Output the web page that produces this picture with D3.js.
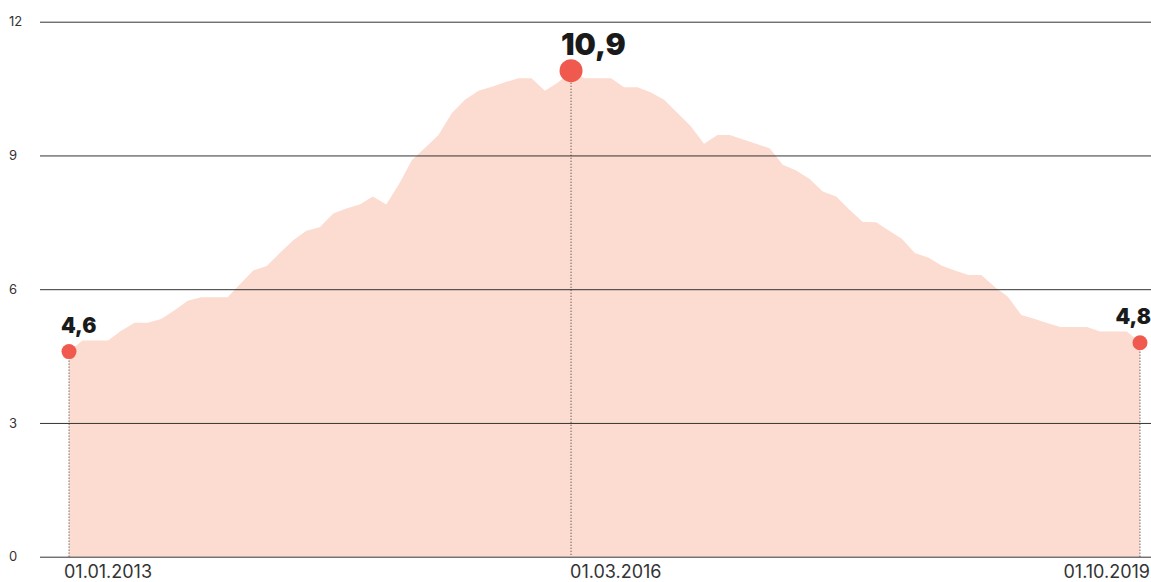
<!DOCTYPE html>
<html>
<head>
<meta charset="utf-8">
<script src="https://cdn.jsdelivr.net/npm/d3@7"></script>
<style>
  body { margin: 0; background: #fff; }
  svg { display: block; }
  text { font-family: Inter, "Noto Sans", sans-serif; }
</style>
</head>
<body>
<div id="chart"></div>
<script>
// monthly values, 01.2013 .. 10.2019
const firstMonth = "2013-01-01";
const lastMonth = "2019-10-01";
const values = [
  4.6, 4.85, 4.85, 4.85, 5.07, 5.25, 5.25, 5.33, 5.53, 5.74, 5.82, 5.82,
  5.82, 6.14, 6.42, 6.52, 6.81, 7.10, 7.31, 7.39, 7.70, 7.81, 7.90, 8.08,
  7.90, 8.39, 8.90, 9.18, 9.46, 9.95, 10.25, 10.45, 10.54, 10.64, 10.73, 10.73,
  10.45, 10.64, 10.9, 10.73, 10.73, 10.73, 10.53, 10.53, 10.41, 10.25, 9.95, 9.66,
  9.26, 9.46, 9.46, 9.36, 9.26, 9.16, 8.79, 8.66, 8.47, 8.19, 8.08, 7.79,
  7.51, 7.50, 7.32, 7.13, 6.81, 6.71, 6.53, 6.42, 6.32, 6.32, 6.05, 5.83,
  5.42, 5.33, 5.24, 5.15, 5.15, 5.15, 5.05, 5.05, 5.05, 4.8
];
const yTicks = [0, 3, 6, 9, 12];
const markedDates = ["2013-01-01", "2016-03-01", "2019-10-01"];
const markedLabels = ["01.01.2013", "01.03.2016", "01.10.2019"];

const width = 1151;
const height = 582;

const parse = d3.timeParse("%Y-%m-%d");
const months = d3.timeMonth.range(parse(firstMonth), d3.timeMonth.offset(parse(lastMonth), 1));
const data = months.map((d, i) => ({ date: d, value: values[i] }));

const x = d3.scaleTime()
  .domain([parse(firstMonth), parse(lastMonth)])
  .range([69, 1140]);

const y = d3.scaleLinear()
  .domain([0, 12])
  .range([556.7, 21.7]);

const svg = d3.select("#chart").append("svg")
  .attr("width", width)
  .attr("height", height);

// area
const area = d3.area()
  .x(d => x(d.date))
  .y0(y(0))
  .y1(d => y(d.value));

svg.append("path")
  .datum(data)
  .attr("fill", "#fcdbd0")
  .attr("d", area);

// grid + y labels
const yAxis = svg.append("g")
  .attr("transform", "translate(40,0)")
  .call(d3.axisLeft(y).tickValues(yTicks).tickSize(-(width - 40)).tickFormat(d3.format("d")));

yAxis.select(".domain").remove();
yAxis.selectAll(".tick line")
  .attr("stroke", "#333")
  .attr("stroke-width", 1);
yAxis.selectAll(".tick text")
  .attr("x", -31)
  .attr("text-anchor", "start")
  .attr("fill", "#333")
  .style("font-size", "13px");

// marked points
const fmt = v => d3.format(".1f")(v).replace(".", ",");
const marked = markedDates.map((s, i) => {
  const d = data.find(p => +p.date === +parse(s));
  return { date: d.date, value: d.value, label: markedLabels[i], idx: i };
});

svg.selectAll(".drop")
  .data(marked)
  .join("line")
  .attr("class", "drop")
  .attr("x1", d => x(d.date))
  .attr("x2", d => x(d.date))
  .attr("y1", d => y(d.value))
  .attr("y2", y(0))
  .attr("stroke", "#333")
  .attr("stroke-width", 1)
  .attr("stroke-dasharray", "1,2");

svg.selectAll(".dot")
  .data(marked)
  .join("circle")
  .attr("class", "dot")
  .attr("cx", d => x(d.date))
  .attr("cy", d => y(d.value))
  .attr("r", d => d.idx === 1 ? 11.5 : 7.5)
  .attr("fill", "#f05a4e");

svg.selectAll(".vlabel")
  .data(marked)
  .join("text")
  .attr("class", "vlabel")
  .attr("x", d => d.idx === 0 ? x(d.date) - 8 : d.idx === 1 ? x(d.date) - 10 : x(d.date) + 11)
  .attr("y", d => y(d.value) - (d.idx === 1 ? 16 : 19))
  .attr("text-anchor", d => d.idx === 2 ? "end" : "start")
  .attr("fill", "#1a1a1a")
  .style("font-weight", 900)
  .style("font-size", d => d.idx === 1 ? "30px" : "21px")
  .text(d => fmt(d.value));

// x labels
svg.selectAll(".xlabel")
  .data(marked)
  .join("text")
  .attr("class", "xlabel")
  .attr("x", d => d.idx === 0 ? x(d.date) - 5 : d.idx === 1 ? x(d.date) - 1 : x(d.date) + 10)
  .attr("y", 578)
  .attr("text-anchor", d => d.idx === 2 ? "end" : "start")
  .attr("fill", "#333")
  .style("font-size", "18px")
  .text(d => d.label);
</script>
</body>
</html>
